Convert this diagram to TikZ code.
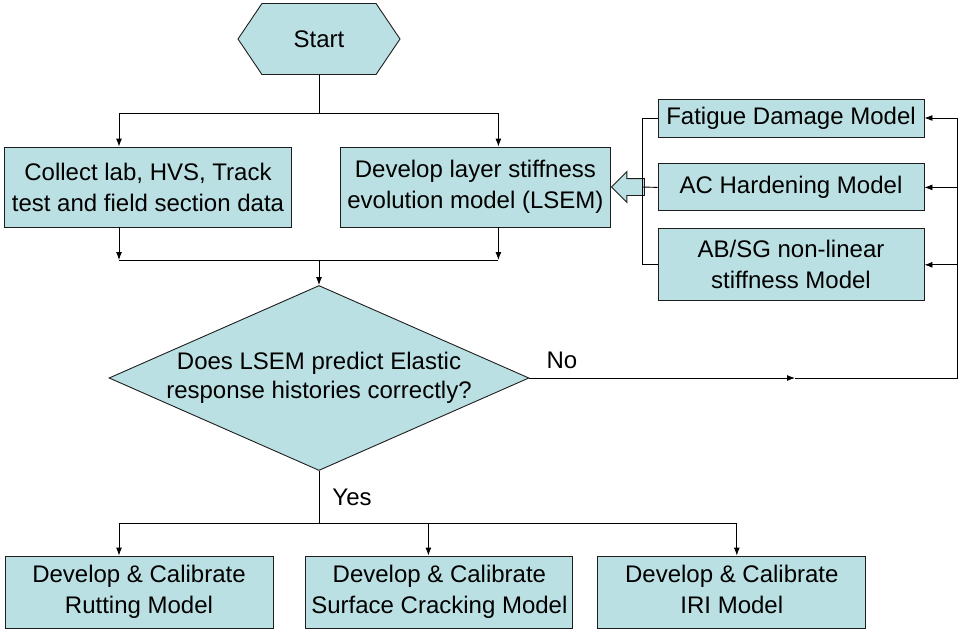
\documentclass[tikz,border=0pt]{standalone}
\usepackage{fontspec}
\setmainfont{Liberation Sans}
\usepackage{tikz}
\usetikzlibrary{shapes.geometric, shapes.symbols, shapes.arrows, arrows.meta, positioning, calc}
\definecolor{boxblue}{RGB}{187,224,227}
\definecolor{edgedark}{RGB}{30,30,30}
\tikzstyle{block} = [rectangle, minimum height=80pt, inner sep=2pt, align=center, draw=edgedark, line width=0.9pt, fill=boxblue, font=\fontsize{24}{31}\selectfont]
\tikzstyle{hexa} = [signal, signal to=west and east, signal pointer angle=112, minimum width=162pt, minimum height=71pt, inner sep=0pt, draw=edgedark, line width=0.9pt, fill=boxblue, font=\fontsize{24}{31}\selectfont]
\tikzstyle{decision} = [diamond, minimum width=420pt, minimum height=185pt, inner sep=0pt, draw=edgedark, line width=0.9pt, fill=boxblue]
\tikzstyle{fatarrow} = [single arrow, shape border rotate=180, minimum height=33pt, minimum width=30pt, inner sep=8pt, single arrow head extend=7pt, draw=edgedark, line width=0.9pt, fill=boxblue]
\tikzstyle{label} = [font=\fontsize{24}{29}\selectfont, align=center]
\tikzstyle{line} = [line width=0.9pt]
\tikzstyle{arrow} = [line width=0.9pt, -{Latex[length=8pt,width=6pt]}]

\begin{document}
\begin{tikzpicture}[x=1pt, y=-1pt]
    \useasboundingbox (0,0) rectangle (959,629);

    % top part
    \node (start) [hexa] at (319,39) {Start};
    \node (collect) [block, minimum width=287pt] at (148,187) {Collect lab, HVS, Track\\test and field section data};
    \node (lsem) [block, minimum width=270pt, right=48pt of collect] {Develop layer stiffness\\evolution model (LSEM)};

    % models feeding the LSEM
    \node (fatigue) [block, minimum width=266pt, minimum height=38pt] at (791,118) {Fatigue Damage Model};
    \node (hardening) [block, minimum width=266pt, minimum height=47pt, below=26pt of fatigue] {AC Hardening Model};
    \node (nonlinear) [block, minimum width=266pt, minimum height=72pt, below=17pt of hardening] {AB/SG non-linear\\stiffness Model};
    \node (feed) [fatarrow, anchor=tip] at (lsem.east) {};

    % check
    \node (decision) [decision] at (319,378) {};
    \node (question) [label] at (decision.center) {Does LSEM predict Elastic\\response histories correctly?};
    \node (nolabel) [label] at (562,360) {No};
    \node (yeslabel) [label] at (352,497) {Yes};

    % models to develop
    \node (rutting) [block, minimum width=268pt, minimum height=72pt] at (139,592) {Develop \& Calibrate\\Rutting Model};
    \node (cracking) [block, minimum width=267pt, minimum height=72pt, right=32pt of rutting] {Develop \& Calibrate\\Surface Cracking Model};
    \node (iri) [block, minimum width=268pt, minimum height=72pt, right=24pt of cracking] {Develop \& Calibrate\\IRI Model\vphantom{g}};

    \coordinate (split) at (319,113);
    \coordinate (merge) at (319,260);
    \coordinate (branch) at (319,523);
    \coordinate (fbmid) at (795,378);
    \coordinate (fbturn) at (957,378);
    \coordinate (bracket) at (642,187);
    \coordinate (cin) at ($(collect.north)+(-29,0)$);
    \coordinate (lin) at ($(lsem.north)+(23,0)$);
    \coordinate (cout) at ($(collect.south)+(-29,0)$);
    \coordinate (lout) at ($(lsem.south)+(23,0)$);
    \coordinate (rin) at ($(rutting.north)+(-20,0)$);
    \coordinate (sin) at ($(cracking.north)+(-11,0)$);
    \coordinate (iin) at ($(iri.north)+(5,0)$);

    \draw [line] (start) -- (split);
    \draw [line] (cin |- split) -- (lin |- split);
    \draw [arrow] (cin |- split) -- (cin);
    \draw [arrow] (lin |- split) -- (lin);

    \draw [arrow] (cout) -- (cout |- merge);
    \draw [arrow] (lout) -- (lout |- merge);
    \draw [line] (cout |- merge) -- (lout |- merge);
    \draw [arrow] (merge) -- (decision);

    \draw [line] (fatigue.west) -- (fatigue.west -| bracket) -- (nonlinear.west -| bracket) -- (nonlinear.west);
    \draw [line] (hardening.west) -- (bracket);

    \draw [arrow] (decision.east) -- (fbmid);
    \draw [line] (fbmid) -- (fbturn) -- (fbturn |- fatigue.east);
    \draw [arrow] (fbturn |- fatigue.east) -- (fatigue.east);
    \draw [arrow] (fbturn |- hardening.east) -- (hardening.east);
    \draw [arrow] (fbturn |- nonlinear.east) -- (nonlinear.east);

    \draw [line] (decision) -- (branch);
    \draw [line] (rin |- branch) -- (iin |- branch);
    \draw [arrow] (rin |- branch) -- (rin);
    \draw [arrow] (sin |- branch) -- (sin);
    \draw [arrow] (iin |- branch) -- (iin);
\end{tikzpicture}
\end{document}
